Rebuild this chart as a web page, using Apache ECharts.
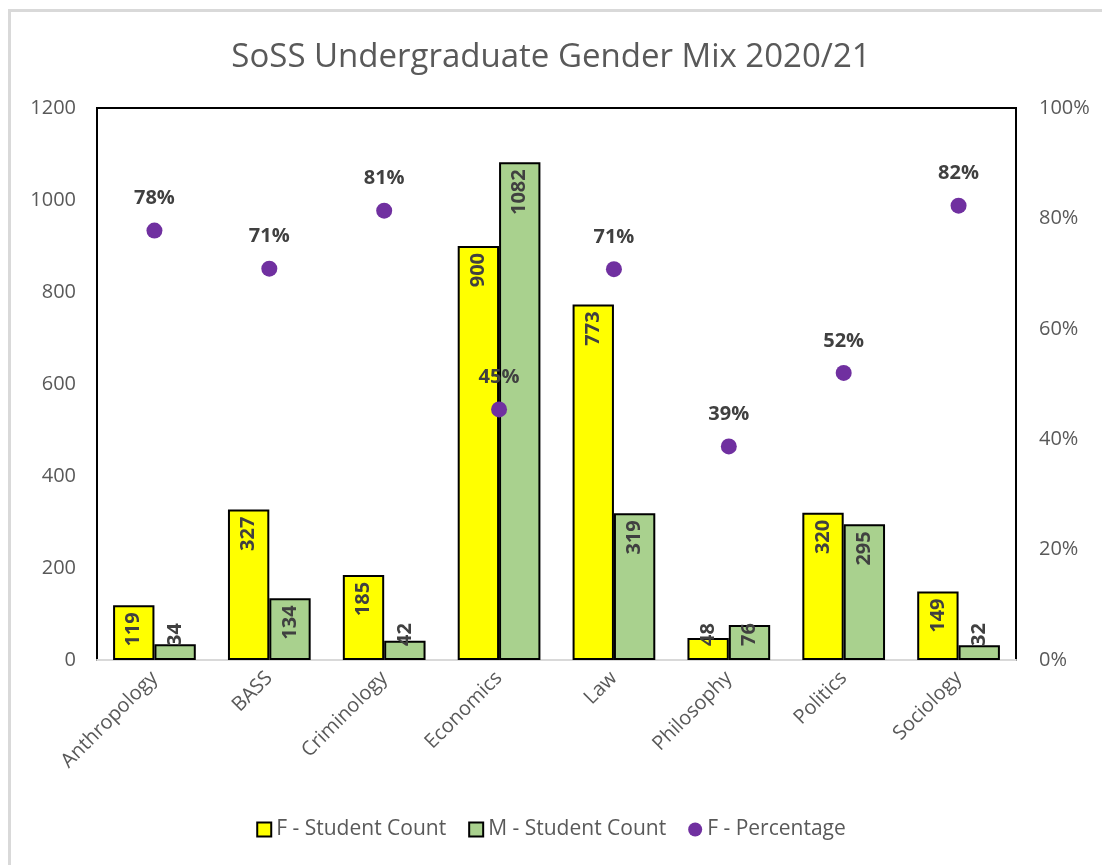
<!DOCTYPE html>
<html>
<head>
<meta charset="utf-8">
<script src="https://cdn.jsdelivr.net/npm/echarts@6/dist/echarts.min.js"></script>
<style>
  html, body { margin: 0; padding: 0; background: #fff; overflow: hidden; }
  #frame { position: absolute; left: 8px; top: 9px; width: 1200px; height: 1000px;
           border-left: 3px solid #d9d9d9; border-top: 3px solid #d9d9d9; }
  #main { position: absolute; left: 0; top: 0; width: 1102px; height: 865px; }
</style>
</head>
<body>
<div id="frame"></div>
<div id="main"></div>
<script>
// chart data
const subjects = ['Anthropology', 'BASS', 'Criminology', 'Economics', 'Law', 'Philosophy', 'Politics', 'Sociology'];
const femaleCount = [119, 327, 185, 900, 773, 48, 320, 149];
const maleCount = [34, 134, 42, 1082, 319, 76, 295, 32];
const femalePct = [0.778, 0.709, 0.814, 0.454, 0.708, 0.387, 0.520, 0.823];

const countTicks = { min: 0, max: 1200, interval: 200 };
const pctTicks = { min: 0, max: 1, interval: 0.2 };

const font = 'Open Sans, Noto Sans, sans-serif';
const grey = '#595959';

let chartDom = document.getElementById('main');
let myChart = echarts.init(chartDom, null, { renderer: 'canvas' });

const barLabel = {
    show: true,
    position: 'insideTop',
    rotate: 90,
    align: 'right',
    verticalAlign: 'middle',
    distance: 7,
    color: '#404040',
    fontWeight: 'bold',
    fontSize: 20,
    fontFamily: font
};

// bars too short for the label: keep the label near the base, like Excel does
function withLabels(values) {
    return values.map(v => v < 90
        ? { value: v, label: { position: 'insideBottom', align: 'left', distance: 14 } }
        : v);
}

let option = {
    textStyle: { fontFamily: font },
    title: {
        text: 'SoSS Undergraduate Gender Mix 2020/21',
        left: 'center',
        top: 36,
        textStyle: { color: grey, fontSize: 33, fontWeight: 'normal', fontFamily: font }
    },
    legend: {
        bottom: 20,
        left: 'center',
        itemGap: 22,
        itemWidth: 14,
        itemHeight: 14,
        textStyle: { color: grey, fontSize: 21, fontFamily: font },
        data: [
            { name: 'F - Student Count', icon: 'rect' },
            { name: 'M - Student Count', icon: 'rect' },
            { name: 'F - Percentage', icon: 'circle' }
        ]
    },
    grid: { left: 97, right: 86, top: 108, bottom: 205, show: true, borderColor: '#000', borderWidth: 2 },
    xAxis: {
        type: 'category',
        data: subjects,
        axisLine: { show: true, lineStyle: { color: '#d9d9d9', width: 2 } },
        axisTick: { show: false },
        axisLabel: { rotate: 45, color: grey, fontSize: 20, margin: 15, fontFamily: font }
    },
    yAxis: [
        {
            type: 'value',
            min: countTicks.min,
            max: countTicks.max,
            interval: countTicks.interval,
            axisLine: { show: false },
            axisTick: { show: false },
            splitLine: { show: false },
            axisLabel: { color: grey, fontSize: 20, margin: 21, fontFamily: font, formatter: v => String(v) }
        },
        {
            type: 'value',
            min: pctTicks.min,
            max: pctTicks.max,
            interval: pctTicks.interval,
            position: 'right',
            axisLine: { show: false },
            axisTick: { show: false },
            splitLine: { show: false },
            axisLabel: {
                color: grey, fontSize: 20, margin: 23, fontFamily: font,
                formatter: v => Math.round(v * 100) + '%'
            }
        }
    ],
    series: [
        {
            name: 'F - Student Count',
            type: 'bar',
            data: withLabels(femaleCount),
            barWidth: '36%',
            barGap: '0%',
            itemStyle: { color: '#ffff00', borderColor: '#000', borderWidth: 2 },
            label: barLabel
        },
        {
            name: 'M - Student Count',
            type: 'bar',
            data: withLabels(maleCount),
            barWidth: '36%',
            itemStyle: { color: '#a9d18e', borderColor: '#000', borderWidth: 2 },
            label: barLabel
        },
        {
            name: 'F - Percentage',
            type: 'scatter',
            yAxisIndex: 1,
            data: femalePct,
            symbolSize: 16,
            itemStyle: { color: '#7030a0', opacity: 1 },
            z: 5,
            label: {
                show: true,
                position: 'top',
                distance: 14,
                color: '#404040',
                fontWeight: 'bold',
                fontSize: 20,
                fontFamily: font,
                formatter: p => Math.round(p.value * 100) + '%'
            }
        }
    ]
};

option && myChart.setOption(option);
</script>
</body>
</html>
